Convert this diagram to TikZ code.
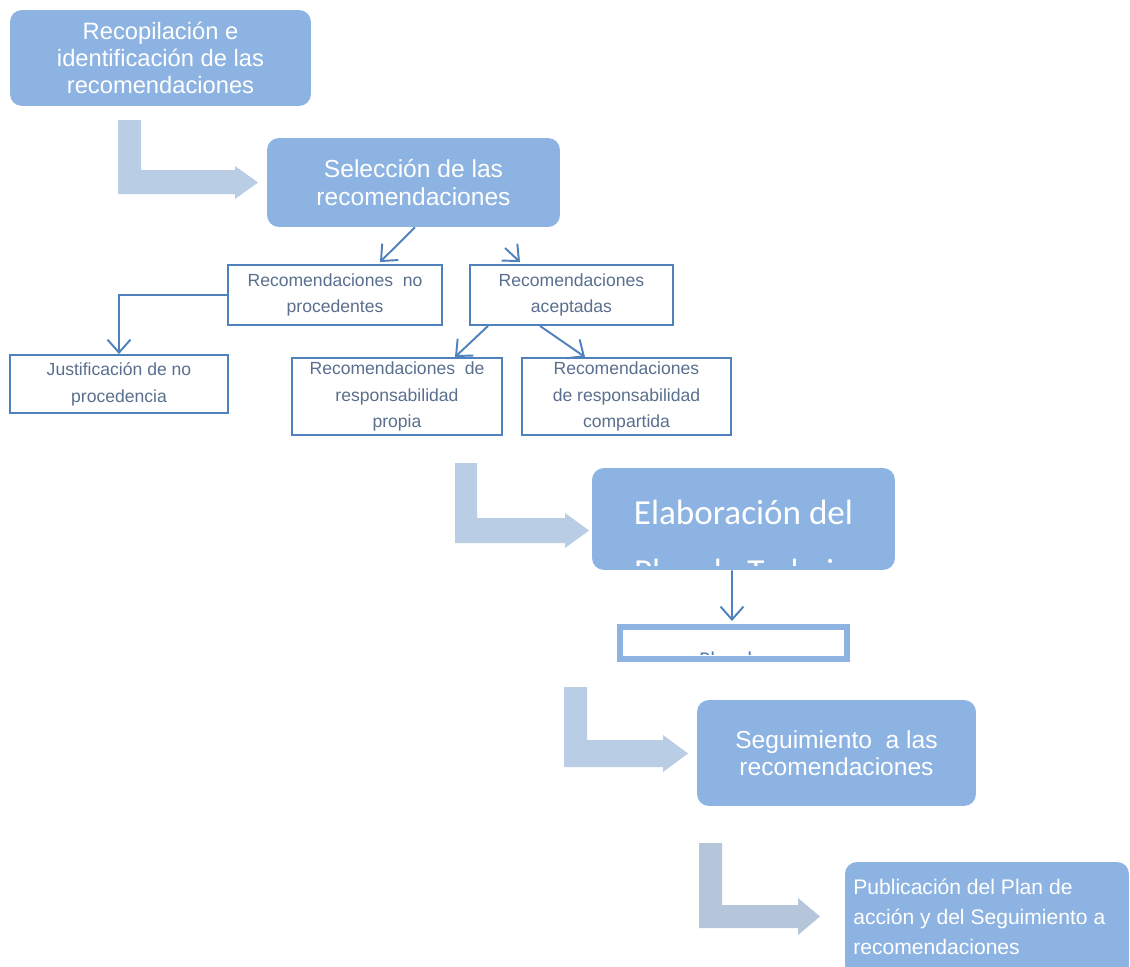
\documentclass[tikz,border=0pt]{standalone}
\usepackage{fontspec}
\setmainfont{Liberation Sans}
\newfontfamily\carlitofont{Carlito}
\usetikzlibrary{arrows.meta}
\definecolor{boxfill}{HTML}{8DB3E2}
\definecolor{larrow}{HTML}{B9CDE5}
\definecolor{larrowg}{HTML}{B6C6DA}
\definecolor{edgeblue}{HTML}{4F81BD}
\definecolor{subtext}{HTML}{5A6F8E}
\begin{document}
\begin{tikzpicture}[x=0.02cm,y=-0.02cm,
  bigbox/.style={fill=boxfill, rounded corners=0.24cm, text=white, align=center, inner sep=0pt},
  subbox/.style={draw=edgeblue, line width=1.1pt, fill=white, text=subtext, align=center, inner sep=0pt,
    font=\fontsize{10}{15.3}\selectfont},
  conn/.style={draw=edgeblue, line width=1.1pt, -{Straight Barb[length=2.6mm,width=4.6mm,line width=1.1pt]}},
  lshape/.style={fill=larrow},
  lshapeg/.style={fill=larrowg}]
\useasboundingbox (0,0) rectangle (1130,967);
\clip (0,0) rectangle (1130,967);
\fill[white] (0,0) rectangle (1130,967);

% L-shaped block arrows
\fill[lshape] (118,120) -- (141,120) -- (141,170) -- (235,170) -- (235,166) -- (258,182.5)
  -- (235,199) -- (235,194) -- (118,194) -- cycle;
\fill[lshape] (455,463) -- (477,463) -- (477,518) -- (565,518) -- (565,513) -- (589,530.5)
  -- (565,548) -- (565,543) -- (455,543) -- cycle;
\fill[lshape] (564,687) -- (587,687) -- (587,740) -- (663,740) -- (663,735) -- (688,753.5)
  -- (663,772) -- (663,767) -- (564,767) -- cycle;
\fill[lshapeg] (699,843) -- (722,843) -- (722,905) -- (798,905) -- (798,898) -- (820,916.5)
  -- (798,935) -- (798,928) -- (699,928) -- cycle;

% main boxes
\node[bigbox, minimum width=6.02cm, minimum height=1.92cm,
  font=\fontsize{13.5}{15.3}\selectfont] (b1) at (160.5,58)
  {Recopilación e\\identificación de las\\recomendaciones};
\node[bigbox, minimum width=5.86cm, minimum height=1.78cm,
  font=\fontsize{14}{16}\selectfont] (b2) at (413.5,182.5)
  {Selección de las\\recomendaciones};

% sub boxes
\node[subbox, minimum width=4.28cm, minimum height=1.2cm] (np) at (335,295)
  {Recomendaciones\ \ no\\procedentes};
\node[subbox, minimum width=4.06cm, minimum height=1.2cm] (ac) at (571.5,295)
  {Recomendaciones\\aceptadas};
\node[subbox, minimum width=4.36cm, minimum height=1.16cm] (ju) at (119,384)
  {Justificación de no\\procedencia};
\node[subbox, minimum width=4.2cm, minimum height=1.54cm] (pr) at (397,396.5)
  {Recomendaciones\ \ de\\responsabilidad\\propia};
\node[subbox, minimum width=4.18cm, minimum height=1.54cm] (co) at (626.5,396.5)
  {Recomendaciones\\de responsabilidad\\compartida};

% connectors
\coordinate (acin) at (505,248);
\draw[conn] ([xshift=0.03cm]b2.south) -- ([xshift=0.9cm,yshift=0.04cm]np.north);
\draw[conn] (acin) -- ([xshift=-1.03cm,yshift=0.04cm]ac.north);
\draw[conn] (np.west) -| (ju.north);
\draw[conn] ([xshift=-1.67cm]ac.south) -- ([xshift=1.16cm]pr.north);
\draw[conn] ([xshift=-0.63cm]ac.south) -- ([xshift=-0.83cm]co.north);

% Elaboración box (text clipped)
\node[bigbox, minimum width=6.06cm, minimum height=2.04cm] (elab) at (743.5,519) {};
\begin{scope}
  \clip (592,468) rectangle (895,565);
  \node[anchor=base, text=white, inner sep=0pt, font=\carlitofont\fontsize{20}{22}\selectfont]
    (elab1) at (743.5,524) {Elaboración del};
  \node[anchor=base, text=white, inner sep=0pt, font=\carlitofont\fontsize{20}{22}\selectfont]
    (elab2) at (743.5,583) {Plan de Trabajo};
\end{scope}

% Plan box (text clipped)
\node[draw=boxfill, line width=3.4pt, fill=white, minimum width=4.54cm, minimum height=0.64cm,
  inner sep=0pt] (plan) at (733.5,643) {};
\begin{scope}
  \clip (623,630) rectangle (844,654);
  \node[anchor=base, text=edgeblue, inner sep=0pt, font=\carlitofont\fontsize{12}{14}\selectfont]
    (plan1) at (731,666) {Plan de};
\end{scope}
\draw[conn] ([xshift=-0.23cm]elab.south) -- ([xshift=-0.03cm,yshift=0.06cm]plan.north);

% Seguimiento
\node[bigbox, minimum width=5.58cm, minimum height=2.12cm,
  font=\fontsize{14}{15.5}\selectfont] (seg) at (836.5,753)
  {Seguimiento\ \ a las\\recomendaciones};

% Publicación
\node[bigbox, minimum width=5.68cm, minimum height=2.46cm] (pub) at (987,923.5) {};
\node[anchor=west, text=white, align=left, inner sep=0pt,
  font=\fontsize{12}{17}\selectfont] (pubtxt) at (853,917)
  {Publicación del Plan de\\acción y del Seguimiento a\\recomendaciones};
\end{tikzpicture}
\end{document}
